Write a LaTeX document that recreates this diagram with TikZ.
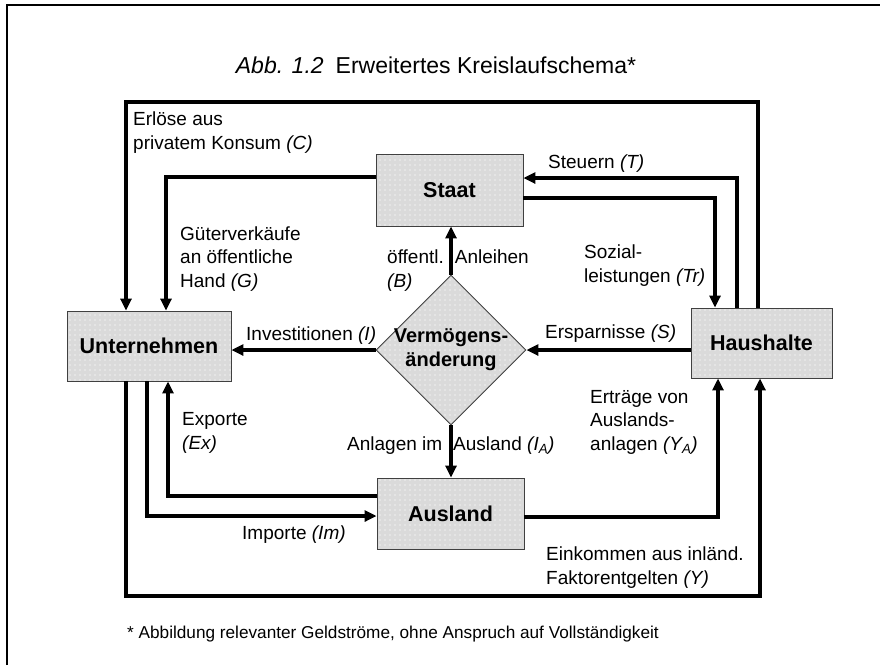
\documentclass[tikz,border=0pt]{standalone}
\usepackage{fontspec}
\setmainfont{Liberation Sans}
\usetikzlibrary{arrows.meta,calc,shapes.geometric,patterns.meta}
\definecolor{boxgray}{RGB}{218,218,218}
\definecolor{dotgray}{RGB}{232,232,232}

\begin{document}
\begin{tikzpicture}[x=1pt,y=-1pt,
    sector/.style={draw=black!75, line width=0.9pt, inner sep=0pt,
        preaction={fill=boxgray},
        preaction={pattern={Dots[distance=5pt,radius=1.1pt]}, pattern color=dotgray},
        font=\bfseries\fontsize{21.5}{25}\selectfont},
    flow/.style={line width=3.1pt, -{Triangle[length=12pt,width=11pt]}},
    lbl/.style={anchor=base west, inner sep=0pt, align=left,
        font=\fontsize{19}{23.5}\selectfont}]

    \useasboundingbox (0,0) rectangle (880,665);

    % Frame of the page
    \coordinate (fBL) at (7,665);
    \coordinate (fTL) at (7,5);
    \coordinate (fTR) at (880,5);
    \draw[line width=2pt] (fBL) -- (fTL) -- (fTR);

    % Title
    \node[anchor=base, inner sep=0pt, font=\fontsize{23}{27}\selectfont] (title) at (436,73)
        {\textit{Abb. 1.2}\hspace{12pt}Erweitertes Kreislaufschema*};

    % Sectors
    \node[sector, minimum width=164pt, minimum height=70pt] (unt) at (149,346) {Unternehmen};
    \node[sector, minimum width=147pt, minimum height=72pt] (staat) at (449.5,190) {Staat};
    \node[sector, minimum width=141pt, minimum height=70pt] (haus) at (761.5,343) {Haushalte};
    \node[sector, minimum width=147pt, minimum height=71pt] (ausl) at (450.5,513.5) {Ausland};
    \node[sector, diamond, minimum size=150pt, inner sep=-6pt, align=center,
        font=\bfseries\fontsize{20}{24}\selectfont] (verm) at (451,350) {Vermögens-\\änderung};

    % Routing points
    \coordinate (cC1) at (758,102);
    \coordinate (cC2) at (126,102);
    \coordinate (cT) at (737,178);
    \coordinate (cTr) at (715,198);
    \coordinate (cG) at (166,177);
    \coordinate (cYA) at (718,517);
    \coordinate (cY1) at (126,596);
    \coordinate (cY2) at (760,596);
    \coordinate (cIm) at (147,516);
    \coordinate (cEx) at (168,496);

    % Money flows
    \draw[flow] (haus.north -| cC1) -- (cC1) -- (cC2) -- (unt.north -| cC2);
    \draw[flow] (haus.north -| cT) -- (cT) -- (staat.east |- cT);
    \draw[flow] (staat.east |- cTr) -- (cTr) -- (haus.north -| cTr);
    \draw[flow] (staat.west |- cG) -- (cG) -- (unt.north -| cG);
    \draw[flow] (verm.west) -- (unt.east |- verm.west);
    \draw[flow] (haus.west |- verm.east) -- (verm.east);
    \draw[flow] (ausl.east |- cYA) -- (cYA) -- (haus.south -| cYA);
    \draw[flow] (unt.south -| cY1) -- (cY1) -- (cY2) -- (haus.south -| cY2);
    \draw[flow] (unt.south -| cIm) -- (cIm) -- (ausl.west |- cIm);
    \draw[flow] (ausl.west |- cEx) -- (cEx) -- (unt.south -| cEx);

    % Flow labels (placed at the baseline of their last line)
    \node[lbl] (lC) at (133,149) {Erlöse aus\\privatem Konsum \textit{(C)}};
    \node[lbl] (lT) at (548,168) {Steuern \textit{(T)}};
    \node[lbl] (lG) at (180,287) {Güterverkäufe\\an öffentliche\\Hand \textit{(G)}};
    \node[lbl] (lB) at (387,287) {öffentl.\hspace{11pt}Anleihen\\\textit{(B)}};
    \node[lbl] (lTr) at (584,282) {Sozial-\\leistungen \textit{(Tr)}};
    \node[lbl] (lI) at (246,340) {Investitionen \textit{(I)}};
    \node[lbl] (lS) at (545,338) {Ersparnisse \textit{(S)}};
    \node[lbl] (lYA) at (590,450) {Erträge von\\Auslands-\\anlagen \textit{(Y\textsubscript{A})}};
    \node[lbl] (lEx) at (182,449) {Exporte\\\textit{(Ex)}};
    \node[lbl] (lIA) at (347,450) {Anlagen im\hspace{11pt}Ausland \textit{(I\textsubscript{A})}};
    \node[lbl] (lIm) at (242,539) {Importe \textit{(Im)}};
    \node[lbl] (lY) at (546,584) {Einkommen aus inländ.\\Faktorentgelten \textit{(Y)}};

    % arrows over the split labels
    \draw[flow] (verm.north) -- (staat.south -| verm.north);
    \draw[flow] (verm.south) -- (ausl.north -| verm.south);

    % Footnote
    \node[lbl, font=\fontsize{17.2}{21}\selectfont] (note) at (127,638)
        {* Abbildung relevanter Geldströme, ohne Anspruch auf Vollständigkeit};

\end{tikzpicture}
\end{document}
